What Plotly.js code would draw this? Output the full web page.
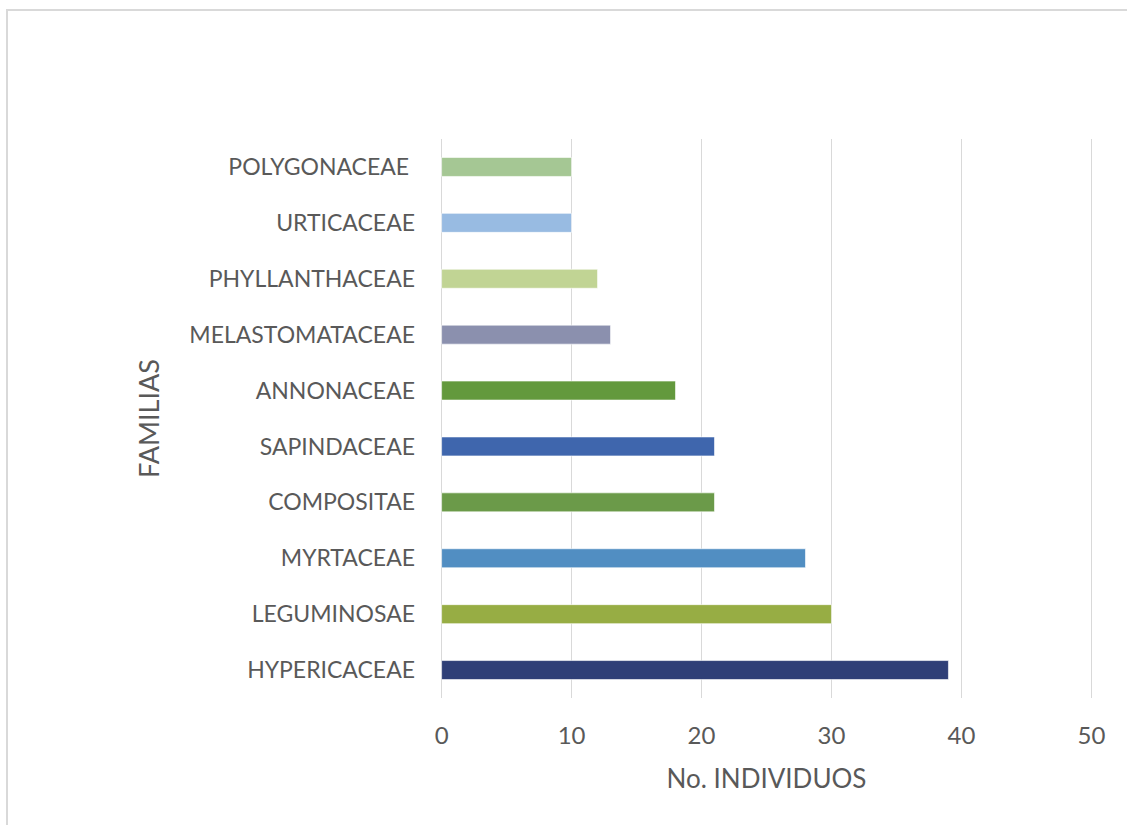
<!DOCTYPE html>
<html>
<head>
<meta charset="utf-8">
<script src="https://cdn.plot.ly/plotly-3.0.1.min.js"></script>
<style>
  html, body { margin: 0; padding: 0; background: #ffffff; }
  #wrap { position: relative; width: 1127px; height: 825px; overflow: hidden; }
  #chart { position: absolute; left: 0; top: 0; width: 1127px; height: 825px; }
  #frame { position: absolute; left: 6px; top: 9px; width: 1200px; height: 900px;
           border-left: 2px solid #d9d9d9; border-top: 2px solid #d9d9d9; pointer-events: none; }
</style>
</head>
<body>
<div id="wrap">
  <div id="chart"></div>
  <div id="frame"></div>
</div>
<script>
// Plant families, bottom to top
const familias = [
  "HYPERICACEAE", "LEGUMINOSAE", "MYRTACEAE", "COMPOSITAE", "SAPINDACEAE",
  "ANNONACEAE", "MELASTOMATACEAE", "PHYLLANTHACEAE", "URTICACEAE", "POLYGONACEAE\u00a0"
];
// Number of individuals per family
const individuos = [39, 30, 28, 21, 21, 18, 13, 12, 10, 10];
// Bar colour per family
const colores = [
  "#2f3f77", "#97ad44", "#518ec2", "#6b9a49", "#3f66ad",
  "#63993d", "#8b90ae", "#c1d494", "#98bbe2", "#a5c794"
];
const xTicks = [0, 10, 20, 30, 40, 50];

const font = "Lato, 'Open Sans', sans-serif";

const trace = {
  type: "bar",
  orientation: "h",
  y: familias,
  x: individuos,
  width: 0.34,
  marker: { color: colores, line: { color: "rgba(255,255,255,0.6)", width: 1 } },
  hoverinfo: "x+y"
};

const layout = {
  width: 1127,
  height: 825,
  paper_bgcolor: "#ffffff",
  plot_bgcolor: "#ffffff",
  margin: { l: 439, r: 33, t: 139, b: 127 },
  showlegend: false,
  bargap: 0,
  font: { family: font, size: 23, color: "#595959" },
  xaxis: {
    // small padding so the gridlines at 0 and 50 are drawn
    range: [-0.2, 50.2],
    tickvals: xTicks,
    ticktext: xTicks.map(String),
    showgrid: true,
    gridcolor: "#d9d9d9",
    gridwidth: 1.5,
    zeroline: false,
    showline: false,
    ticks: "",
    ticklabelstandoff: 21,
    tickfont: { family: font, size: 24, color: "#595959" },
    title: { text: "No. INDIVIDUOS", standoff: 21, font: { family: font, size: 26, color: "#595959" } },
    fixedrange: true
  },
  yaxis: {
    type: "category",
    categoryorder: "array",
    categoryarray: familias,
    showgrid: false,
    zeroline: false,
    showline: false,
    ticks: "",
    ticklabelstandoff: 23,
    tickfont: { family: font, size: 23, color: "#595959" },
    title: { text: "FAMILIAS", standoff: 21, font: { family: font, size: 27, color: "#595959" } },
    fixedrange: true
  }
};

Plotly.newPlot("chart", [trace], layout, { displayModeBar: false, staticPlot: true });
</script>
</body>
</html>
